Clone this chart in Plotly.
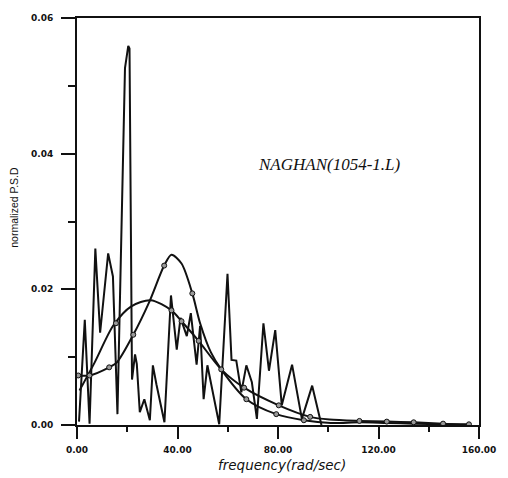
import plotly.graph_objects as go

# ---- data ----
# jagged (measured) normalized PSD
psd_x = [0.8, 3.1, 5.0, 7.3, 9.2, 12.4, 14.3, 16.1, 19.1, 20.4, 20.9, 21.9, 23.1, 23.8,
         25.0, 26.8, 29.0, 30.2, 31.6, 34.8, 37.4, 39.7, 41.2, 43.7, 45.3, 47.6, 49.0,
         50.4, 51.9, 56.6, 59.9, 61.5, 63.4, 65.4, 67.4, 69.6, 71.6, 74.2, 76.4, 78.9,
         81.5, 85.6, 89.5, 93.6, 97.3]
psd_y = [0.0005, 0.0155, 0.0002, 0.0260, 0.0136, 0.0253, 0.0219, 0.0016, 0.0526, 0.0559,
         0.0555, 0.0067, 0.0104, 0.0090, 0.0019, 0.0038, 0.0007, 0.0088, 0.0060, 0.0004,
         0.0191, 0.0111, 0.0158, 0.0131, 0.0165, 0.0089, 0.0146, 0.0038, 0.0088, 0.0001,
         0.0223, 0.0096, 0.0095, 0.0048, 0.0088, 0.0063, 0.0009, 0.0150, 0.0080, 0.0140,
         0.0029, 0.0089, 0.0009, 0.0058, 0.0000]

# peaked fitted curve
peak_x = [0, 5, 12.8, 15.8, 22.4, 28.6, 34.7, 37.6, 41.6, 45.9, 49.0, 53.3, 57.4, 67.4,
          79.3, 90.3, 101, 112.4, 123.3, 134, 145.7, 156]
peak_y = [0.0073, 0.0073, 0.0085, 0.0092, 0.0133, 0.0180, 0.0235, 0.0251, 0.0238, 0.0194,
          0.0150, 0.0107, 0.0082, 0.0038, 0.0016, 0.0007, 0.0003, 0.0004, 0.0003, 0.0002,
          0.0001, 0.0000]

# broad fitted curve
broad_x = [1, 7, 14.5, 21.6, 29.3, 37.6, 41.6, 48.4, 57.4, 66.5, 80.3, 92.8, 100.5,
           112.4, 123.3, 134, 145.7, 156]
broad_y = [0.0051, 0.0092, 0.0147, 0.0175, 0.0184, 0.0169, 0.0153, 0.0124, 0.0082,
           0.0055, 0.0029, 0.0012, 0.0008, 0.0006, 0.0005, 0.0004, 0.0002, 0.0001]

# marker positions on the curves
peak_mx = [0.5, 5, 12.8, 22.4, 34.7, 45.9, 57.4, 67.4, 79.3, 90.3]
peak_my = [0.0073, 0.0073, 0.0085, 0.0133, 0.0235, 0.0194, 0.0082, 0.0038, 0.0016, 0.0007]
broad_mx = [15.5, 37.6, 41.6, 48.4, 66.5, 80.3, 92.8, 112.4, 123.3, 134, 145.7, 156]
broad_my = [0.0150, 0.0169, 0.0153, 0.0124, 0.0055, 0.0029, 0.0012, 0.0006, 0.0005,
            0.0004, 0.0002, 0.0001]

x_ticks = [0, 40, 80, 120, 160]
y_ticks = [0.00, 0.02, 0.04, 0.06]

fig = go.Figure()
fig.add_trace(go.Scatter(x=psd_x, y=psd_y, mode="lines",
                         line=dict(color="#111", width=2), hoverinfo="skip"))
fig.add_trace(go.Scatter(x=peak_x, y=peak_y, mode="lines",
                         line=dict(color="#111", width=2, shape="spline", smoothing=0.8)))
fig.add_trace(go.Scatter(x=broad_x, y=broad_y, mode="lines",
                         line=dict(color="#111", width=2, shape="spline", smoothing=0.8)))
mk = dict(symbol="circle", size=5, color="#999", line=dict(color="#111", width=1))
fig.add_trace(go.Scatter(x=peak_mx, y=peak_my, mode="markers", marker=mk))
fig.add_trace(go.Scatter(x=broad_mx, y=broad_my, mode="markers", marker=mk))

tickfont = dict(family="DejaVu Sans", size=9, color="#111", weight="bold")

fig.update_layout(
    width=508, height=478,
    margin=dict(l=77, r=18, t=18, b=53),
    paper_bgcolor="white", plot_bgcolor="white",
    showlegend=False,
    xaxis=dict(range=[0, 160], tickvals=x_ticks, tickformat=".2f",
               showgrid=False, zeroline=False,
               showline=True, linecolor="#111", linewidth=2, mirror=True,
               ticks="outside", ticklen=12, tickwidth=2, tickcolor="#111",
               minor=dict(dtick=20, ticks="outside", ticklen=5, tickwidth=2,
                          tickcolor="#111", showgrid=False),
               tickfont=tickfont, ticklabelstandoff=3),
    yaxis=dict(range=[0, 0.06], tickvals=y_ticks, tickformat=".2f",
               showgrid=False, zeroline=False,
               showline=True, linecolor="#111", linewidth=2, mirror=True,
               ticks="outside", ticklen=14, tickwidth=2, tickcolor="#111",
               minor=dict(dtick=0.01, ticks="outside", ticklen=7, tickwidth=2,
                          tickcolor="#111", showgrid=False),
               tickfont=tickfont, ticklabelstandoff=6),
    annotations=[
        dict(text="NAGHAN(1054-1.L)", xref="paper", yref="paper", x=0.627, y=0.639,
             xanchor="center", yanchor="middle", showarrow=False,
             font=dict(family="Liberation Serif", size=17, style="italic", color="#111")),
        dict(text="frequency(rad/sec)", xref="paper", yref="paper", x=0.511, y=-0.098,
             xanchor="center", yanchor="middle", showarrow=False,
             font=dict(family="DejaVu Sans", size=13.5, style="italic", color="#111")),
        dict(text="normalized P.S.D", xref="paper", yref="paper", x=-0.157, y=0.536,
             xanchor="center", yanchor="middle", showarrow=False, textangle=-90,
             font=dict(family="Liberation Sans", size=10.5, color="#111")),
    ],
)

fig.write_html("out.html")
